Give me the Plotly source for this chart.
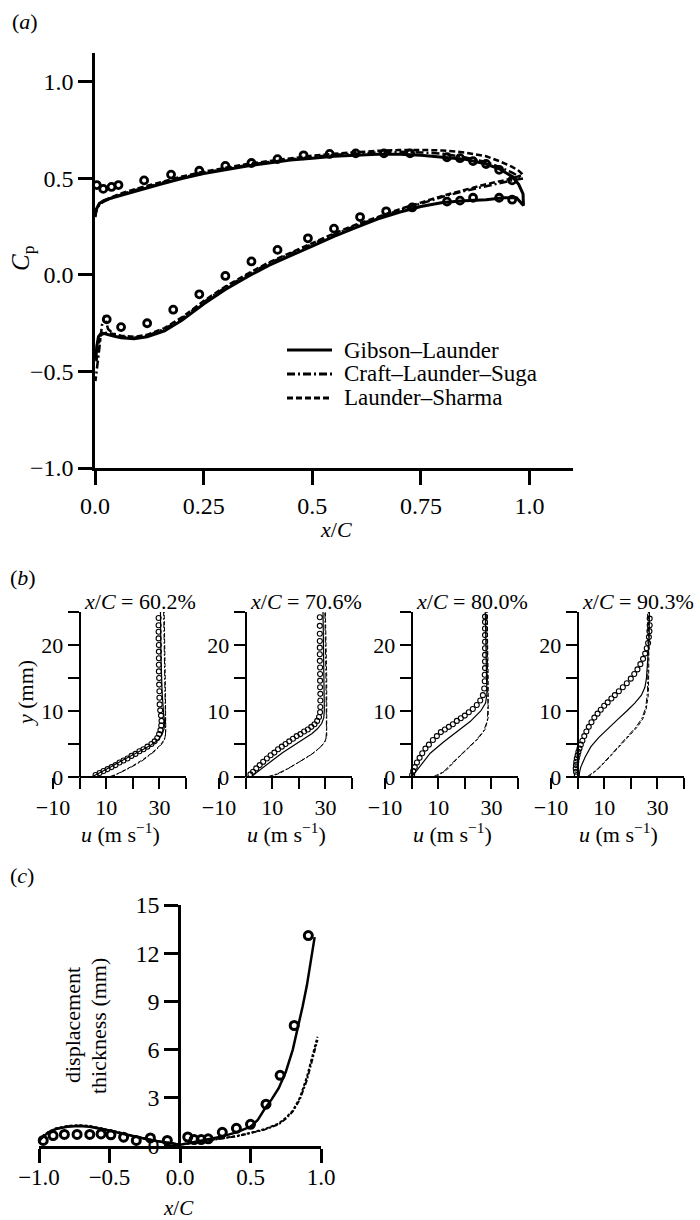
import plotly.graph_objects as go

# ---------------- data: panel (a) Cp ----------------
A_UP_X = [0.0, 0.003, 0.01, 0.02, 0.04, 0.07, 0.1, 0.15, 0.2, 0.25, 0.3, 0.35, 0.4, 0.45, 0.5,
          0.55, 0.6, 0.65, 0.7, 0.75, 0.8, 0.85, 0.9, 0.93, 0.96, 0.975, 0.985]
A_GL_UP = [0.30, 0.34, 0.37, 0.385, 0.40, 0.42, 0.44, 0.47, 0.50, 0.525, 0.545, 0.565, 0.58, 0.595, 0.605,
           0.615, 0.62, 0.625, 0.625, 0.62, 0.61, 0.60, 0.575, 0.55, 0.51, 0.47, 0.42]
A_CLS_UP = [0.30, 0.33, 0.365, 0.38, 0.40, 0.425, 0.445, 0.475, 0.505, 0.53, 0.55, 0.57, 0.585, 0.60, 0.612,
            0.622, 0.63, 0.635, 0.638, 0.635, 0.628, 0.61, 0.585, 0.56, 0.53, 0.51, 0.50]
A_LS_UP = [0.31, 0.34, 0.37, 0.385, 0.405, 0.43, 0.45, 0.48, 0.51, 0.535, 0.555, 0.575, 0.59, 0.605, 0.618,
           0.628, 0.637, 0.643, 0.647, 0.648, 0.645, 0.635, 0.615, 0.59, 0.56, 0.54, 0.52]

A_GL_LO_X = [0.986, 0.97, 0.94, 0.9, 0.85, 0.8, 0.75, 0.7, 0.65, 0.6, 0.55, 0.5, 0.45, 0.4, 0.35, 0.3,
             0.25, 0.2, 0.16, 0.12, 0.09, 0.06, 0.04, 0.025, 0.015, 0.008, 0.004, 0.002]
A_GL_LO = [0.36, 0.40, 0.40, 0.39, 0.385, 0.375, 0.355, 0.325, 0.29, 0.245, 0.20, 0.15, 0.10, 0.05, -0.01,
           -0.075, -0.15, -0.235, -0.29, -0.32, -0.33, -0.325, -0.315, -0.305, -0.30, -0.32, -0.37, -0.44]
A_CLS_LO_X = [0.985, 0.96, 0.93, 0.9, 0.85, 0.8, 0.75, 0.7, 0.65, 0.6, 0.55, 0.5, 0.45, 0.4, 0.35, 0.3,
              0.25, 0.2, 0.16, 0.12, 0.09, 0.06, 0.04, 0.03, 0.022, 0.016, 0.01, 0.005, 0.001]
A_CLS_LO = [0.50, 0.49, 0.475, 0.46, 0.435, 0.405, 0.37, 0.335, 0.295, 0.255, 0.21, 0.16, 0.11, 0.06, 0.0,
            -0.065, -0.14, -0.225, -0.28, -0.315, -0.325, -0.32, -0.30, -0.28, -0.21, -0.26, -0.38, -0.48, -0.55]
A_LS_LO_X = [0.985, 0.96, 0.93, 0.9, 0.85, 0.8, 0.75, 0.7, 0.65, 0.6, 0.55, 0.5, 0.45, 0.4, 0.35, 0.3,
             0.25, 0.2, 0.16, 0.12, 0.09, 0.06, 0.04, 0.025, 0.015, 0.008, 0.003]
A_LS_LO = [0.52, 0.50, 0.485, 0.47, 0.44, 0.41, 0.375, 0.34, 0.30, 0.26, 0.215, 0.165, 0.115, 0.065, 0.005,
           -0.06, -0.135, -0.22, -0.275, -0.31, -0.32, -0.315, -0.305, -0.30, -0.31, -0.36, -0.45]

A_EXP_UP_X = [0.004, 0.019, 0.038, 0.054, 0.113, 0.175, 0.24, 0.30, 0.36, 0.42, 0.48, 0.54, 0.60, 0.665,
              0.725, 0.81, 0.84, 0.87, 0.90, 0.93, 0.96]
A_EXP_UP = [0.466, 0.446, 0.456, 0.466, 0.49, 0.52, 0.54, 0.565, 0.58, 0.60, 0.62, 0.627, 0.63, 0.63,
            0.63, 0.61, 0.605, 0.59, 0.575, 0.545, 0.49]
A_EXP_LO_X = [0.027, 0.06, 0.12, 0.18, 0.24, 0.30, 0.36, 0.42, 0.49, 0.55, 0.61, 0.67, 0.73, 0.81, 0.84,
              0.87, 0.93, 0.96]
A_EXP_LO = [-0.23, -0.27, -0.25, -0.18, -0.10, -0.005, 0.07, 0.13, 0.19, 0.24, 0.30, 0.33, 0.35, 0.38, 0.385,
            0.40, 0.40, 0.39]

A_XTICKS = [0, 0.25, 0.5, 0.75, 1.0]
A_XTICKTEXT = ["0.0", "0.25", "0.5", "0.75", "1.0"]
A_YTICKS = [-1.0, -0.5, 0.0, 0.5, 1.0]
A_YTICKTEXT = ["\u22121.0", "\u22120.5", "0.0", "0.5", "1.0"]
MODEL_NAMES = ["Gibson\u2013Launder", "Craft\u2013Launder\u2013Suga", "Launder\u2013Sharma"]

# ---------------- data: panel (b) velocity profiles ----------------
B_TITLES = ["60.2%", "70.6%", "80.0%", "90.3%"]

B1_EXP_U = [6, 7.5, 9, 10.5, 12, 13.5, 15, 16.5, 18, 19.5, 21, 22.5, 24, 25.5, 27, 28.2, 29.2, 29.9, 30.4,
            30.7, 30.8, 30.6, 30.3, 30.1, 30.0, 30.0, 29.9, 29.9, 29.8, 29.8, 29.8, 29.8, 29.8, 29.7, 29.7,
            29.7, 29.7]
B1_EXP_Y = [0.3, 0.6, 0.9, 1.2, 1.5, 1.8, 2.2, 2.5, 2.8, 3.2, 3.5, 3.9, 4.2, 4.6, 5.0, 5.4, 5.9, 6.5, 7.1,
            7.8, 8.5, 9.3, 10.1, 11.0, 12.0, 13.0, 14.0, 15.0, 16.0, 17.0, 18.0, 19.0, 20.0, 21.0, 22.0,
            23.0, 24.1]
B1_GL_U = [4.5, 8, 12, 16, 20, 24, 27, 29.5, 31, 31.8, 31.9, 31.5, 31.0, 30.6, 30.4]
B1_GL_Y = [0, 0.7, 1.6, 2.5, 3.3, 4.2, 4.9, 5.6, 6.4, 7.4, 8.5, 10, 13, 18, 25]
B1_CLS_U = [11, 15, 19, 23, 26, 28.5, 30.5, 31.8, 32.3, 32.3, 32.0, 31.6]
B1_CLS_Y = [0, 0.6, 1.4, 2.3, 3.2, 4.0, 4.8, 5.5, 6.3, 8, 15, 25]
B1_LS_U = [12, 16, 20, 24, 27, 29.5, 31.2, 32.1, 32.4, 32.2, 31.8]
B1_LS_Y = [0, 0.8, 1.7, 2.7, 3.6, 4.5, 5.3, 6.0, 7, 15, 25]

B2_EXP_U = [1.8, 2.8, 4, 5.3, 6.6, 8, 9.4, 10.8, 12.2, 13.6, 15, 16.4, 17.8, 19.2, 20.6, 22, 23.4, 24.7,
            25.9, 26.9, 27.6, 28.0, 28.1, 28.1, 28.1, 28.0, 28.0, 28.0, 28.0, 27.9, 27.9, 27.9, 27.9, 27.9,
            27.9, 27.9]
B2_EXP_Y = [0.4, 0.8, 1.3, 1.8, 2.3, 2.8, 3.3, 3.7, 4.2, 4.6, 5.0, 5.4, 5.8, 6.2, 6.5, 6.9, 7.2, 7.6,
            8.0, 8.5, 9.1, 9.8, 10.6, 11.6, 12.6, 13.6, 14.6, 15.6, 16.6, 17.6, 18.6, 19.6, 20.6, 21.7,
            22.9, 24.2]
B2_GL_U = [2, 6, 10, 14, 18, 22, 25, 27, 28.6, 29.4, 29.6, 29.5, 29.3, 29.1]
B2_GL_Y = [0, 1.3, 2.5, 3.7, 4.8, 5.8, 6.6, 7.3, 8.1, 9.0, 10.2, 13, 18, 25]
B2_CLS_U = [8, 12, 16, 20, 24, 27, 29, 30.2, 30.4, 30.2, 29.8]
B2_CLS_Y = [0, 0.5, 1.3, 2.2, 3.2, 4.1, 4.9, 5.7, 7, 15, 25]
B2_LS_U = [9, 13, 17, 21, 25, 28, 29.8, 30.5, 30.5, 30.0]
B2_LS_Y = [0, 0.6, 1.5, 2.5, 3.5, 4.5, 5.3, 6.2, 15, 25]

B3_EXP_U = [0.2, 0.6, 1.2, 2, 3, 4, 5.2, 6.5, 8, 9.5, 11, 12.5, 14, 15.5, 17, 18.5, 20, 21.5, 23, 24.5,
            25.8, 26.8, 27.3, 27.5, 27.5, 27.6, 27.6, 27.6, 27.6, 27.6, 27.6, 27.6, 27.6, 27.6]
B3_EXP_Y = [0.3, 0.9, 1.5, 2.2, 2.9, 3.6, 4.3, 4.9, 5.6, 6.2, 6.8, 7.2, 7.6, 8.0, 8.5, 8.9, 9.3, 9.8,
            10.3, 10.9, 11.6, 12.4, 13.4, 14.5, 15.5, 16.5, 17.5, 18.5, 19.5, 20.5, 21.5, 22.5, 23.5, 24.3]
B3_GL_U = [0, 3, 7, 12, 17, 22, 26, 27.8, 28.3, 28.2, 28.0, 27.7]
B3_GL_Y = [0, 1.6, 3.6, 5.3, 6.8, 8.4, 10.0, 11.2, 12.5, 15, 20, 25]
B3_CLS_U = [8, 12, 16, 20, 24, 27, 28.5, 28.7, 28.5, 28.2]
B3_CLS_Y = [0, 0.8, 2.4, 4.0, 5.5, 6.9, 8.5, 11, 18, 25]
B3_LS_U = [9, 13, 17, 21, 25, 27.6, 28.8, 28.8, 28.4]
B3_LS_Y = [0, 1.0, 2.7, 4.3, 5.8, 7.2, 9, 15, 25]

B4_EXP_U = [-0.3, -0.6, -0.7, -0.6, -0.5, -0.3, 0, 0.3, 0.7, 1.2, 1.8, 2.5, 3.3, 4.2, 5.2, 6.3, 7.5, 8.7,
            10, 11.3, 12.7, 14, 15.5, 17, 18.5, 20, 21.3, 22.5, 23.6, 24.6, 25.4, 26, 26.5, 26.8, 27, 27.1,
            27.1]
B4_EXP_Y = [0.3, 0.8, 1.3, 1.8, 2.3, 2.8, 3.3, 3.8, 4.3, 4.9, 5.5, 6.2, 6.9, 7.6, 8.3, 9.0, 9.6, 10.2,
            10.8, 11.3, 11.9, 12.4, 13.0, 13.6, 14.2, 14.9, 15.6, 16.3, 17.1, 17.9, 18.7, 19.5, 20.3, 21.2,
            22.1, 23.0, 24.0]
B4_GL_U = [0.3, 1.2, 2.8, 5, 8, 11.5, 15, 18.5, 21.5, 24, 25.3, 25.9, 26.2, 26.5, 26.9, 27]
B4_GL_Y = [0, 1.5, 3.0, 4.6, 6.0, 7.4, 8.7, 10.0, 11.2, 12.4, 13.6, 15.0, 16.5, 18.5, 21, 25]
B4_CLS_U = [3.5, 7.5, 11.5, 15.5, 19, 22, 24.2, 25.6, 26.3, 26.5, 26.3]
B4_CLS_Y = [0, 1.2, 2.9, 4.7, 6.2, 7.6, 8.9, 10.5, 13, 19, 25]
B4_LS_U = [4, 8, 12, 16, 19.5, 22.5, 24.5, 25.8, 26.6, 26.8, 26.6]
B4_LS_Y = [0, 1.3, 3.0, 4.8, 6.3, 7.6, 8.8, 10.3, 12.5, 18, 25]

B_XTICKS = [-10, 10, 30]
B_XTICKTEXT = ["\u221210", "10", "30"]
B_XMINOR = [0, 20, 40]
B_YTICKS = [0, 10, 20]
B_YMINOR = [5, 15, 25]

# ---------------- data: panel (c) displacement thickness ----------------
C_EXP_X = [-0.97, -0.9, -0.82, -0.73, -0.64, -0.56, -0.49, -0.4, -0.31, -0.21, -0.09, 0.055, 0.1, 0.15,
           0.2, 0.3, 0.4, 0.5, 0.61, 0.71, 0.81, 0.91]
C_EXP_Y = [0.35, 0.65, 0.72, 0.72, 0.72, 0.75, 0.7, 0.55, 0.35, 0.5, 0.35, 0.56, 0.4, 0.4, 0.45, 0.85,
           1.1, 1.35, 2.6, 4.4, 7.5, 13.1]
C_GL_X = [-1.0, -0.97, -0.93, -0.88, -0.8, -0.72, -0.64, -0.56, -0.48, -0.4, -0.32, -0.24, -0.16, -0.08,
          0.0, 0.05, 0.1, 0.2, 0.3, 0.4, 0.5, 0.55, 0.6, 0.65, 0.7, 0.75, 0.8, 0.83, 0.87, 0.9, 0.93, 0.955]
C_GL_Y = [0.3, 0.6, 0.85, 1.05, 1.2, 1.25, 1.2, 1.08, 0.92, 0.75, 0.58, 0.43, 0.3, 0.18, 0.08, 0.15, 0.25,
          0.42, 0.6, 0.85, 1.2, 1.6, 2.3, 2.9, 3.6, 4.6, 6.0, 7.1, 8.7, 10.0, 11.5, 13.0]
C_LR_X = [-1.0, -0.97, -0.93, -0.88, -0.8, -0.72, -0.64, -0.56, -0.48, -0.4, -0.32, -0.24, -0.16, -0.08,
          0.0, 0.05, 0.1, 0.2, 0.3, 0.4, 0.5, 0.6, 0.7, 0.75, 0.8, 0.85, 0.9, 0.93, 0.95, 0.975]
C_LS_Y = [0.35, 0.65, 0.9, 1.1, 1.25, 1.3, 1.25, 1.12, 0.95, 0.78, 0.6, 0.45, 0.32, 0.2, 0.1, 0.15, 0.22,
          0.35, 0.48, 0.62, 0.82, 1.05, 1.4, 1.75, 2.2, 3.0, 4.3, 5.3, 6.0, 6.8]
C_CLS_Y = [0.33, 0.62, 0.88, 1.08, 1.22, 1.28, 1.22, 1.1, 0.93, 0.76, 0.59, 0.44, 0.31, 0.19, 0.09, 0.14,
           0.21, 0.33, 0.46, 0.6, 0.8, 1.02, 1.35, 1.7, 2.15, 2.9, 4.1, 5.1, 5.8, 6.6]
C_XTICKS = [-1.0, -0.5, 0.0, 0.5, 1.0]
C_XTICKTEXT = ["\u22121.0", "\u22120.5", "0.0", "0.5", "1.0"]
C_YTICKS = [0, 3, 6, 9, 12, 15]

# ---------------- layout helpers ----------------
W, H = 700, 1220
FONT = "Liberation Serif, Times New Roman, serif"


def PX(x):
    return x / W


def PY(y):
    return 1 - y / H


fig = go.Figure()

# ---- panel (a) ----
DASH_CLS = "8px,3px,2px,3px"
DASH_LS = "6px,3px"
a_models = [
    (A_UP_X + A_GL_LO_X, A_GL_UP + A_GL_LO, "solid", 3.0, MODEL_NAMES[0]),
    (A_UP_X + A_CLS_LO_X, A_CLS_UP + A_CLS_LO, DASH_CLS, 2.5, MODEL_NAMES[1]),
    (A_UP_X + A_LS_LO_X, A_LS_UP + A_LS_LO, DASH_LS, 2.5, MODEL_NAMES[2]),
]
for xs, ys, dash, w, nm in a_models:
    fig.add_trace(go.Scatter(x=xs, y=ys, mode="lines", name=nm, showlegend=False,
                             line=dict(color="black", width=w, dash=dash),
                             xaxis="x", yaxis="y"))
for xs, ys in [(A_EXP_UP_X, A_EXP_UP), (A_EXP_LO_X, A_EXP_LO)]:
    fig.add_trace(go.Scatter(x=xs, y=ys, mode="markers", showlegend=False, cliponaxis=False,
                             marker=dict(symbol="circle-open", size=7, color="black",
                                         line=dict(width=2.8, color="black")),
                             xaxis="x", yaxis="y"))

# ---- panel (b) ----
b_sets = [
    (B1_EXP_U, B1_EXP_Y, B1_GL_U, B1_GL_Y, B1_CLS_U, B1_CLS_Y, B1_LS_U, B1_LS_Y),
    (B2_EXP_U, B2_EXP_Y, B2_GL_U, B2_GL_Y, B2_CLS_U, B2_CLS_Y, B2_LS_U, B2_LS_Y),
    (B3_EXP_U, B3_EXP_Y, B3_GL_U, B3_GL_Y, B3_CLS_U, B3_CLS_Y, B3_LS_U, B3_LS_Y),
    (B4_EXP_U, B4_EXP_Y, B4_GL_U, B4_GL_Y, B4_CLS_U, B4_CLS_Y, B4_LS_U, B4_LS_Y),
]
for k, (eu, ey, gu, gy, cu, cy, lu, ly) in enumerate(b_sets):
    xa, ya = "x%d" % (k + 2), "y%d" % (k + 2)
    fig.add_trace(go.Scatter(x=lu, y=ly, mode="lines", showlegend=False,
                             line=dict(color="black", width=1, dash="4px,2px"), xaxis=xa, yaxis=ya))
    fig.add_trace(go.Scatter(x=cu, y=cy, mode="lines", showlegend=False,
                             line=dict(color="black", width=1, dash="6px,2px,2px,2px"), xaxis=xa, yaxis=ya))
    fig.add_trace(go.Scatter(x=gu, y=gy, mode="lines", showlegend=False,
                             line=dict(color="black", width=1.2), xaxis=xa, yaxis=ya))
    fig.add_trace(go.Scatter(x=eu, y=ey, mode="markers", showlegend=False, cliponaxis=False,
                             marker=dict(symbol="circle-open", size=5, color="black",
                                         line=dict(width=1.1, color="black")),
                             xaxis=xa, yaxis=ya))

# ---- panel (c) ----
fig.add_trace(go.Scatter(x=C_LR_X, y=C_LS_Y, mode="lines", showlegend=False,
                         line=dict(color="black", width=2, dash="3px,2px"), xaxis="x6", yaxis="y6"))
fig.add_trace(go.Scatter(x=C_LR_X, y=C_CLS_Y, mode="lines", showlegend=False,
                         line=dict(color="black", width=2, dash="5px,2px,2px,2px"), xaxis="x6", yaxis="y6"))
fig.add_trace(go.Scatter(x=C_GL_X, y=C_GL_Y, mode="lines", showlegend=False,
                         line=dict(color="black", width=2.5), xaxis="x6", yaxis="y6"))
fig.add_trace(go.Scatter(x=C_EXP_X, y=C_EXP_Y, mode="markers", showlegend=False, cliponaxis=False,
                         marker=dict(symbol="circle-open", size=8, color="black",
                                     line=dict(width=3, color="black")),
                         xaxis="x6", yaxis="y6"))

axis_common = dict(showgrid=False, zeroline=False, linecolor="black", tickcolor="black",
                   ticks="outside", automargin=False,
                   tickfont=dict(family=FONT, size=24, color="black"))

layout = dict(
    template="none",
    width=W, height=H, margin=dict(l=0, r=0, t=0, b=0, pad=0, autoexpand=False),
    paper_bgcolor="white", plot_bgcolor="white", showlegend=False,
    font=dict(family=FONT, color="black"),
    xaxis=dict(axis_common, domain=[PX(95), PX(573)], range=[0, 1.1], anchor="y",
               showline=True, linewidth=2.5, ticklen=14, tickwidth=2.5,
               tickvals=A_XTICKS, ticktext=A_XTICKTEXT),
    yaxis=dict(axis_common, domain=[PY(468), PY(53)], range=[-1.0, 1.15], anchor="x",
               showline=True, linewidth=2.5, ticklen=14, tickwidth=2.5,
               tickvals=A_YTICKS, ticktext=A_YTICKTEXT),
    xaxis6=dict(axis_common, domain=[PX(39), PX(321)], range=[-1.0, 1.0], anchor="y6",
                showline=True, linewidth=2.5, ticklen=14, tickwidth=2.5,
                tickvals=C_XTICKS, ticktext=C_XTICKTEXT, ticklabelstandoff=-5,
                tickfont=dict(family=FONT, size=23, color="black")),
    yaxis6=dict(axis_common, domain=[PY(1146), PY(905)], range=[0, 15], anchor="free",
                position=PX(179), showline=True, linewidth=2.5, ticklen=14, tickwidth=2.5,
                tickvals=C_YTICKS, tickfont=dict(family=FONT, size=24, color="black")),
)
for k in range(4):
    x0 = 53 + 166 * k
    layout["xaxis%d" % (k + 2)] = dict(axis_common, domain=[PX(x0), PX(x0 + 133)], range=[-10, 40],
                                       anchor="y%d" % (k + 2), showline=False, ticklen=11, tickwidth=1.8,
                                       tickvals=B_XTICKS, ticktext=B_XTICKTEXT,
                                       minor=dict(tickvals=B_XMINOR, ticks="outside", ticklen=11,
                                                  tickwidth=1.8, tickcolor="black", showgrid=False),
                                       tickfont=dict(family=FONT, size=22, color="black"))
    layout["yaxis%d" % (k + 2)] = dict(axis_common, domain=[PY(777), PY(612)], range=[0, 25],
                                       anchor="free", position=PX(x0 + 26.6), showline=True,
                                       linewidth=2, ticklen=11, tickwidth=1.8,
                                       tickvals=B_YTICKS,
                                       minor=dict(tickvals=B_YMINOR, ticks="outside", ticklen=11,
                                                  tickwidth=1.8, tickcolor="black", showgrid=False),
                                       tickfont=dict(family=FONT, size=22, color="black"))
fig.update_layout(**layout)

shapes = []
for k in range(4):
    shapes.append(dict(type="line", xref="x%d" % (k + 2), yref="paper", x0=0, x1=40,
                       y0=PY(777), y1=PY(777), line=dict(color="black", width=2)))
# legend samples for panel (a)
leg_rows = [350, 374, 398]
leg_dash = ["solid", DASH_CLS, DASH_LS]
for r, d in zip(leg_rows, leg_dash):
    shapes.append(dict(type="line", xref="paper", yref="paper", x0=PX(287), x1=PX(332),
                       y0=PY(r), y1=PY(r), line=dict(color="black", width=3, dash=d)))
fig.update_layout(shapes=shapes)

ann = []


def add_text(text, x, y, size, xanchor="center", yanchor="middle", angle=0):
    ann.append(dict(text=text, x=PX(x), y=PY(y), xref="paper", yref="paper", showarrow=False,
                    xanchor=xanchor, yanchor=yanchor, textangle=angle,
                    font=dict(family=FONT, size=size, color="black")))


add_text("(<i>a</i>)", 10, 22, 22, xanchor="left")
add_text("(<i>b</i>)", 8, 577, 22, xanchor="left")
add_text("(<i>c</i>)", 8, 875, 22, xanchor="left")
add_text("<i>C</i><sub>p</sub>", 22, 258, 25, angle=-90)
add_text("<i>x</i>/<i>C</i>", 336, 530, 22)
for r, nm in zip(leg_rows, MODEL_NAMES):
    add_text(nm, 342, r, 23, xanchor="left")
for k, t in enumerate(B_TITLES):
    add_text("<i>x</i>/<i>C</i> = " + t, 140 + 166 * k, 601, 22)
    add_text("<i>u</i> (m s<sup>\u22121</sup>)", 120 + 166 * k, 833, 22)
add_text("<i>y</i> (mm)", 25, 693, 22, angle=-90)
add_text("displacement", 72, 1025, 22, angle=-90)
add_text("thickness (mm)", 98, 1026, 22, angle=-90)
add_text("<i>x</i>/<i>C</i>", 178, 1208, 21)
fig.update_layout(annotations=ann)

fig.write_html("out.html", config={"displayModeBar": False},
               post_script="document.body.style.margin='0px';")
